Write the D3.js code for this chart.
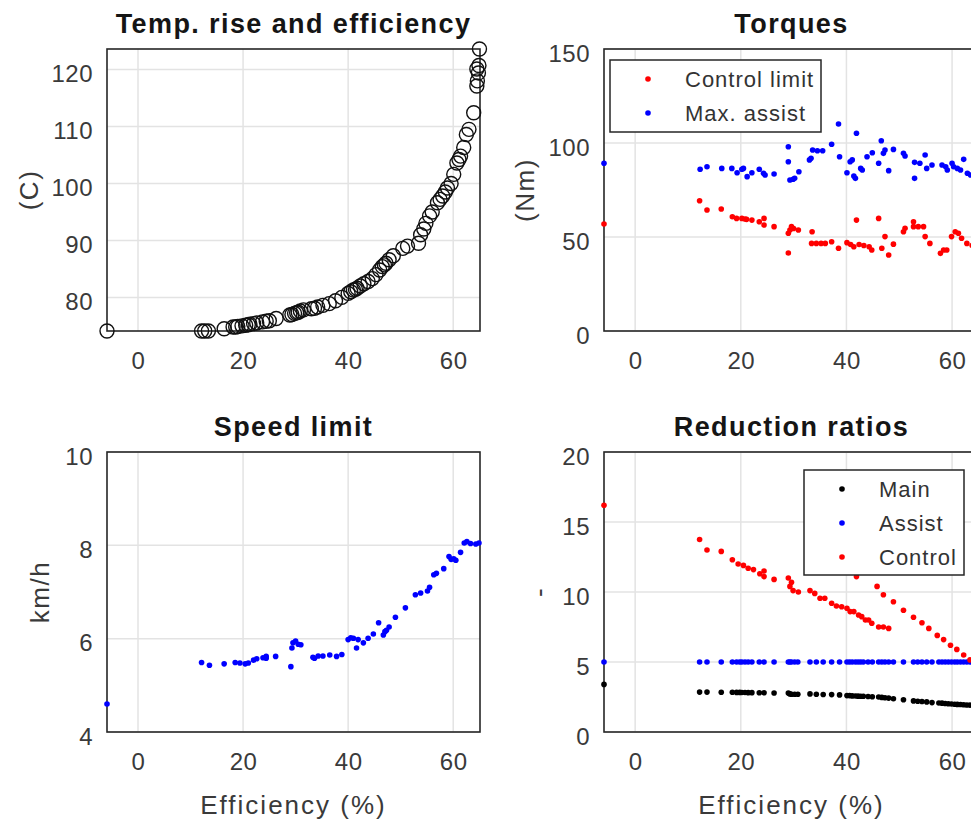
<!DOCTYPE html>
<html>
<head>
<meta charset="utf-8">
<script src="https://cdn.jsdelivr.net/npm/d3@7"></script>
<style>
  body { margin: 0; background: #fff; }
  text { font-family: "Liberation Sans", Arial, sans-serif; }
</style>
</head>
<body>
<div id="chart"></div>
<script>
// shared x axis (efficiency, %)
const effDomain = [-5.9, 65.1];
const effTicks = [0, 20, 40, 60];

// temperature rise (C) vs efficiency
const temperature = [[-5.9,74.1],[12.1,74.1],[12.7,74.1],[13.4,74.1],[16.4,74.5],[18.1,74.8],[18.6,74.8],[19.0,74.9],
  [19.8,75.0],[20.5,75.1],[21.0,75.2],[21.3,75.3],[22.0,75.4],[22.6,75.5],[23.7,75.7],[24.4,75.8],[25.0,75.9],
  [26.3,76.3],[28.9,76.9],[29.3,77.0],[29.8,77.2],[30.2,77.3],[30.5,77.4],[30.9,77.6],[31.5,77.8],[33.0,78.0],
  [33.6,78.1],[34.2,78.3],[35.2,78.6],[36.4,78.9],[37.6,79.4],[38.8,80.0],[40.0,80.7],[40.5,81.0],[41.0,81.3],
  [41.4,81.4],[41.7,81.6],[42.3,82.0],[43.0,82.4],[43.8,82.8],[44.6,83.3],[45.3,84.0],[46.0,84.8],[46.5,85.4],
  [46.9,85.7],[47.2,86.0],[47.8,86.6],[48.6,87.3],[50.4,88.6],[51.3,89.0],[53.4,89.5],[53.8,91.0],[54.4,92.0],
  [54.8,93.0],[55.5,94.3],[56.0,95.0],[57.0,96.6],[57.5,97.2],[58.0,97.8],[58.5,98.5],[58.9,99.2],[59.6,100.0],
  [60.1,101.6],[60.7,103.6],[61.1,104.2],[61.4,104.8],[62.0,106.3],[62.5,108.6],[63.0,109.5],[63.9,112.4],
  [64.5,117.1],[64.6,118.0],[64.8,119.4],[64.5,120.1],[64.9,120.7],[65.0,123.6]];
const tempTicks = [80, 90, 100, 110, 120];

// torques (Nm)
const torqueControl = [[-5.9,56.9],[12.2,69.3],[13.6,64.4],[16.3,64.9],[18.4,60.8],[19.2,59.9],[20.2,59.9],[20.8,59.6],
  [21.1,59.4],[22.1,59.0],[23.5,58.1],[24.4,59.9],[24.4,56.4],[26.3,55.5],[29.0,41.5],[29.0,52.0],[29.3,53.7],
  [29.6,55.5],[30.0,54.5],[30.9,53.7],[33.5,52.8],[33.4,46.6],[34.3,46.6],[35.2,46.6],[36.0,46.6],[37.2,47.5],
  [38.5,44.0],[40.1,47.0],[40.8,46.0],[41.4,44.8],[41.9,59.0],[42.4,46.0],[43.3,45.5],[44.3,44.8],[44.8,43.1],
  [46.1,59.9],[46.7,44.0],[47.3,50.2],[48.0,40.4],[48.9,46.2],[50.8,52.8],[51.1,54.6],[52.7,58.1],[52.7,55.5],
  [53.6,55.5],[54.6,55.5],[54.9,50.2],[55.8,46.6],[57.8,41.3],[58.4,43.1],[59.0,43.1],[59.9,50.2],[60.6,52.8],
  [61.2,52.0],[61.8,49.3],[62.8,46.6],[63.8,45.5],[64.6,47.0]];
const torqueAssist = [[-5.9,89.2],[12.3,86.0],[13.6,87.4],[16.4,86.5],[18.3,86.5],[19.3,84.2],[20.2,86.0],[20.5,86.5],
  [21.2,82.1],[22.1,84.2],[23.5,86.0],[24.3,83.9],[24.6,83.0],[26.3,83.5],[29.0,98.0],[29.0,90.0],[29.3,80.3],
  [29.9,80.7],[30.2,81.2],[31.0,84.7],[33.0,91.0],[33.3,91.9],[33.6,96.3],[34.5,95.9],[35.5,95.9],[37.2,99.3],
  [38.5,110.1],[38.7,92.7],[40.1,84.2],[40.7,90.0],[41.1,91.0],[41.4,82.4],[41.7,81.2],[41.9,105.2],[42.7,86.5],
  [43.0,85.6],[43.9,92.7],[44.9,94.8],[46.1,89.2],[46.6,101.2],[47.0,94.5],[47.3,96.3],[48.0,85.3],[48.9,96.6],
  [50.8,94.5],[51.1,93.1],[52.9,89.7],[52.9,81.2],[53.9,89.2],[54.9,93.6],[55.2,86.5],[56.2,88.3],[58.1,88.3],
  [58.8,87.4],[59.1,85.6],[60.0,89.2],[60.3,87.4],[61.0,86.5],[61.6,85.6],[62.2,91.3],[62.9,83.9],[63.5,83.0],
  [64.3,84.5],[65.0,83.5]];
const torqueTicks = [0, 50, 100, 150];

// speed limit (km/h)
const speedLimit = [[-5.9,4.6],[12.1,5.49],[13.6,5.43],[16.4,5.46],[18.5,5.49],[19.4,5.48],[20.4,5.46],[21.0,5.48],
  [22.0,5.54],[22.6,5.57],[23.8,5.59],[24.4,5.62],[24.4,5.58],[26.2,5.62],[29.1,5.40],[29.3,5.80],[29.5,5.91],
  [30.0,5.95],[30.5,5.88],[31.0,5.87],[33.3,5.60],[33.6,5.58],[34.3,5.63],[35.2,5.63],[36.5,5.65],[37.8,5.62],
  [38.8,5.66],[40.0,5.98],[40.5,6.02],[41.0,6.01],[41.6,5.80],[41.9,5.98],[42.9,5.91],[43.8,6.01],[44.8,6.10],
  [45.8,6.34],[46.7,6.08],[47.0,6.15],[47.3,6.18],[47.8,6.25],[49.0,6.46],[50.9,6.66],[52.8,6.94],[53.8,6.98],
  [55.1,7.02],[55.5,7.10],[56.3,7.37],[56.8,7.40],[58.2,7.50],[59.2,7.76],[59.6,7.70],[60.1,7.71],[60.5,7.68],
  [61.4,7.85],[62.1,8.05],[62.6,8.08],[63.3,8.04],[64.3,8.03],[64.9,8.05]];
const speedTicks = [4, 6, 8, 10];

// reduction ratios
const ratioEff = [-5.9,12.2,13.6,16.3,18.4,19.2,19.8,20.2,20.8,21.4,22.1,23.5,24.4,26.3,29.0,29.3,29.6,30.2,30.8,
  33.1,34.3,35.6,37.2,38.7,40.1,40.6,41.1,41.7,42.2,42.7,43.2,44.1,44.9,46.1,46.7,47.3,48.0,48.9,50.8,52.7,
  53.5,54.3,55.2,56.2,57.5,58.1,58.7,59.3,59.9,60.5,61.0,61.6,62.2,62.8,63.4,64.0,64.6,65.0];
const ratioMain = [3.4,2.85,2.85,2.84,2.84,2.83,2.83,2.82,2.82,2.81,2.81,2.8,2.8,2.79,2.78,2.72,2.7,2.7,2.7,
  2.72,2.7,2.68,2.67,2.65,2.6,2.6,2.58,2.57,2.56,2.55,2.55,2.54,2.52,2.5,2.47,2.45,2.42,2.38,2.3,2.22,
  2.2,2.18,2.15,2.1,2.07,2.06,2.04,2.02,2.0,1.98,1.97,1.96,1.95,1.93,1.92,1.9,1.89,1.88];
const ratioAssist = ratioEff.map(() => 5);
const ratioControl = [[-5.9,16.2],[12.2,13.75],[13.6,13.0],[16.3,12.9],[18.4,12.3],[19.5,12.0],[20.5,11.9],
  [21.4,11.7],[22.4,11.6],[23.6,11.3],[24.4,11.1],[24.4,11.5],[26.3,10.9],[29.0,11.0],[29.3,10.4],[29.6,10.7],
  [29.9,10.1],[30.9,10.0],[33.1,10.1],[34.0,9.9],[35.0,9.55],[35.9,9.55],[37.2,9.2],[38.1,9.0],[39.1,8.95],
  [40.1,8.84],[40.7,8.6],[41.4,8.6],[42.3,8.36],[42.9,8.24],[43.6,8.0],[44.2,8.0],[44.8,7.77],[46.1,7.5],
  [47.0,7.5],[48.0,7.4],[41.9,11.1],[45.8,10.4],[47.0,9.8],[48.9,9.3],[50.8,8.7],[52.7,8.2],[54.3,7.8],
  [55.6,7.4],[57.2,6.9],[58.4,6.6],[59.7,6.2],[60.9,5.9],[62.2,5.5],[63.4,5.15],[64.4,4.9]];
const ratioTicks = [0, 5, 10, 15, 20];

const width = 971, height = 825;
const svg = d3.select('#chart').append('svg')
  .attr('width', width)
  .attr('height', height)
  .style('display', 'block');

svg.append('rect').attr('width', width).attr('height', height).attr('fill', '#fff');

const cols = [{ left: 107, right: 480 }, { left: 604, right: 979 }];
const rows = [{ top: 49, bottom: 331 }, { top: 452, bottom: 732 }];

function makePanel(col, row, opts) {
  const x = d3.scaleLinear().domain(effDomain).range([col.left, col.right]);
  const y = d3.scaleLinear().domain(opts.yDomain).range([row.bottom, row.top]);
  const g = svg.append('g');

  // grid
  g.selectAll('.vgrid').data(effTicks).join('line')
    .attr('x1', d => x(d)).attr('x2', d => x(d))
    .attr('y1', row.top).attr('y2', row.bottom)
    .attr('stroke', '#e3e3e3').attr('stroke-width', 1.5);
  g.selectAll('.hgrid').data(opts.yTicks).join('line')
    .attr('x1', col.left).attr('x2', col.right)
    .attr('y1', d => y(d)).attr('y2', d => y(d))
    .attr('stroke', '#e3e3e3').attr('stroke-width', 1.5);

  // box
  g.append('rect')
    .attr('x', col.left).attr('y', row.top)
    .attr('width', col.right - col.left).attr('height', row.bottom - row.top)
    .attr('fill', 'none').attr('stroke', '#262626').attr('stroke-width', 1.6);

  // axes (labels only)
  const xAxis = g.append('g')
    .attr('transform', `translate(0,${row.bottom})`)
    .call(d3.axisBottom(x).tickValues(effTicks).tickSize(0).tickPadding(21).tickFormat(d3.format('d')));
  const yAxis = g.append('g')
    .attr('transform', `translate(${col.left},0)`)
    .call(d3.axisLeft(y).tickValues(opts.yTicks).tickSize(0).tickPadding(14).tickFormat(d3.format('d')));
  [xAxis, yAxis].forEach(a => {
    a.select('.domain').remove();
    a.selectAll('text')
      .style('font-family', '"Liberation Sans", Arial, sans-serif')
      .style('font-size', '24px')
      .style('letter-spacing', '0.5px')
      .attr('fill', '#3a3a3a');
  });
  yAxis.selectAll('text').attr('dy', '0.5em');

  // title
  g.append('text')
    .attr('x', (col.left + col.right) / 2)
    .attr('y', row.top - 16)
    .attr('text-anchor', 'middle')
    .style('font-size', '27px')
    .style('font-weight', 'bold')
    .style('letter-spacing', '1.4px')
    .attr('fill', '#151515')
    .text(opts.title);

  // y label
  g.append('text')
    .attr('transform', `translate(${opts.yLabelX},${(row.top + row.bottom) / 2}) rotate(-90)`)
    .attr('text-anchor', 'middle')
    .attr('dominant-baseline', 'central')
    .style('font-size', '26px')
    .style('letter-spacing', '1.5px')
    .attr('fill', '#3a3a3a')
    .text(opts.yLabel);

  if (opts.xLabel) {
    g.append('text')
      .attr('x', (col.left + col.right) / 2)
      .attr('y', row.bottom + 82)
      .attr('text-anchor', 'middle')
      .style('font-size', '26px')
      .style('letter-spacing', '2px')
      .attr('fill', '#3a3a3a')
      .text(opts.xLabel);
  }

  return { g, x, y };
}

function dots(p, data, color) {
  p.g.append('g').selectAll('circle').data(data).join('circle')
    .attr('cx', d => p.x(d[0]))
    .attr('cy', d => p.y(d[1]))
    .attr('r', 2.8)
    .attr('fill', color);
}

function legend(x0, y0, w, h, entries) {
  const lg = svg.append('g');
  lg.append('rect')
    .attr('x', x0).attr('y', y0).attr('width', w).attr('height', h)
    .attr('fill', '#fff').attr('stroke', '#262626').attr('stroke-width', 1.5);
  const row = lg.selectAll('.entry').data(entries).join('g')
    .attr('transform', (d, i) => `translate(${x0},${y0 + 19 + i * 34})`);
  row.append('circle').attr('cx', 38).attr('cy', 0).attr('r', 2.8).attr('fill', d => d[1]);
  row.append('text')
    .attr('x', 75).attr('y', 0)
    .attr('dominant-baseline', 'central')
    .style('font-size', '22px')
    .style('letter-spacing', '1px')
    .attr('fill', '#333')
    .text(d => d[0]);
}

// Temp. rise and efficiency
const p1 = makePanel(cols[0], rows[0], {
  yDomain: [74.1, 123.6], yTicks: tempTicks, title: 'Temp. rise and efficiency',
  yLabel: '(C)', yLabelX: 29
});
p1.g.append('g').selectAll('circle').data(temperature).join('circle')
  .attr('cx', d => p1.x(d[0]))
  .attr('cy', d => p1.y(d[1]))
  .attr('r', 7)
  .attr('fill', 'none')
  .attr('stroke', '#111')
  .attr('stroke-width', 1.4);

// Torques
const p2 = makePanel(cols[1], rows[0], {
  yDomain: [0, 150], yTicks: torqueTicks, title: 'Torques',
  yLabel: '(Nm)', yLabelX: 525
});
dots(p2, torqueControl, '#ff0000');
dots(p2, torqueAssist, '#0000ff');
legend(610, 60, 211, 72, [['Control limit', '#ff0000'], ['Max. assist', '#0000ff']]);

// Speed limit
const p3 = makePanel(cols[0], rows[1], {
  yDomain: [4, 10], yTicks: speedTicks, title: 'Speed limit',
  yLabel: 'km/h', yLabelX: 40, xLabel: 'Efficiency (%)'
});
dots(p3, speedLimit, '#0000ff');

// Reduction ratios
const p4 = makePanel(cols[1], rows[1], {
  yDomain: [0, 20], yTicks: ratioTicks, title: 'Reduction ratios',
  yLabel: '-', yLabelX: 539, xLabel: 'Efficiency (%)'
});
dots(p4, ratioEff.map((e, i) => [e, ratioMain[i]]), '#000');
dots(p4, ratioEff.map((e, i) => [e, ratioAssist[i]]), '#0000ff');
dots(p4, ratioControl, '#ff0000');
legend(804, 470, 160, 105, [['Main', '#000'], ['Assist', '#0000ff'], ['Control', '#ff0000']]);
</script>
</body>
</html>
